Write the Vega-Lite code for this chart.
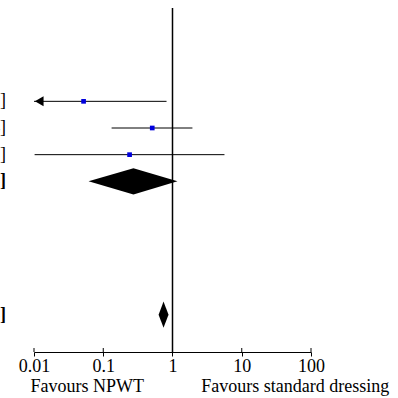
{
  "$schema": "https://vega.github.io/schema/vega-lite/v6.json",
  "width": 277,
  "height": 344,
  "autosize": "none",
  "padding": {"left": 34, "top": 8, "right": 87, "bottom": 46},
  "background": "white",
  "config": {"view": {"stroke": null}, "font": "Liberation Serif"},
  "datasets": {
    "studies": [
      {"row": 1, "est": 0.052, "lb": 0.004, "ub": 0.82, "label": "0.05 [0.00, 0.82]"},
      {"row": 2, "est": 0.51, "lb": 0.132, "ub": 1.94, "label": "0.51 [0.13, 1.94]"},
      {"row": 3, "est": 0.24, "lb": 0.0102, "ub": 5.63, "label": "0.24 [0.01, 5.63]"}
    ],
    "summaries": [
      {"row": 4, "est": 0.273, "lb": 0.0613, "ub": 1.18, "label": "0.27 [0.06, 1.18]"},
      {"row": 9, "est": 0.742, "lb": 0.63, "ub": 0.876, "label": "0.74 [0.63, 0.88]"}
    ]
  },
  "encoding": {
    "x": {
      "type": "quantitative",
      "scale": {"type": "log", "domain": [0.01, 100], "nice": false},
      "axis": {
        "values": [0.01, 0.1, 1, 10, 100], "format": "~g", "orient": "bottom",
        "domainColor": "black", "domainWidth": 1, "tickColor": "black", "tickSize": 4, "tickWidth": 1,
        "labelFont": "Liberation Serif", "labelFontSize": 18, "labelColor": "black", "labelPadding": 1,
        "grid": false, "title": null, "labelFlush": false, "labelOverlap": false}
    },
    "y": {
      "type": "quantitative",
      "scale": {"domain": [-2.5, 10.4], "reverse": true, "nice": false, "zero": false},
      "axis": null
    }
  },
  "layer": [
    {
      "data": {"values": [{"t": 0.01}, {"t": 0.1}, {"t": 1}, {"t": 10}, {"t": 100}]},
      "mark": {"type": "rule", "color": "black", "strokeWidth": 1},
      "encoding": {
        "x": {"field": "t", "type": "quantitative"},
        "y": {"datum": 10.25},
        "y2": {"datum": 10.4}
      }
    },
    {
      "data": {"values": [{"ref": 1}]},
      "mark": {"type": "rule", "color": "black", "strokeWidth": 1.5},
      "encoding": {"x": {"field": "ref", "type": "quantitative"}}
    },
    {
      "data": {"name": "studies"},
      "mark": {"type": "rule", "color": "black", "strokeWidth": 1, "clip": true},
      "encoding": {
        "x": {"field": "lb", "type": "quantitative"},
        "x2": {"field": "ub"},
        "y": {"field": "row", "type": "quantitative"}
      }
    },
    {
      "data": {"name": "studies"},
      "transform": [{"filter": "datum.lb < 0.01"}],
      "mark": {"type": "point", "shape": "triangle-left", "filled": true, "color": "black", "opacity": 1, "size": 100},
      "encoding": {
        "x": {"datum": 0.0119},
        "y": {"field": "row", "type": "quantitative"}
      }
    },
    {
      "data": {"name": "studies"},
      "mark": {"type": "point", "shape": "square", "filled": true, "color": "#0000dd", "opacity": 1, "size": 22},
      "encoding": {
        "x": {"field": "est", "type": "quantitative"},
        "y": {"field": "row", "type": "quantitative"}
      }
    },
    {
      "data": {"name": "summaries"},
      "transform": [
        {"fold": ["lb", "est", "ub"], "as": ["k", "v"]},
        {"calculate": "datum.row - (datum.k == 'est' ? 0.49 : 0)", "as": "ytop"},
        {"calculate": "datum.row + (datum.k == 'est' ? 0.49 : 0)", "as": "ybot"}
      ],
      "mark": {"type": "area", "color": "black", "opacity": 1, "orient": "vertical"},
      "encoding": {
        "x": {"field": "v", "type": "quantitative"},
        "y": {"field": "ytop", "type": "quantitative"},
        "y2": {"field": "ybot"},
        "detail": {"field": "row"}
      }
    },
    {
      "data": {"name": "studies"},
      "mark": {"type": "text", "align": "right", "baseline": "middle", "font": "Liberation Serif", "fontSize": 18, "fill": "black", "color": "black"},
      "encoding": {
        "x": {"datum": 0.00394},
        "y": {"field": "row", "type": "quantitative"},
        "text": {"field": "label"}
      }
    },
    {
      "data": {"name": "summaries"},
      "mark": {"type": "text", "align": "right", "baseline": "middle", "font": "Liberation Serif", "fontSize": 18, "fontWeight": "bold", "fill": "black", "color": "black"},
      "encoding": {
        "x": {"datum": 0.00394},
        "y": {"field": "row", "type": "quantitative"},
        "text": {"field": "label"}
      }
    },
    {
      "data": {"values": [{"side": "Favours NPWT"}]},
      "mark": {"type": "text", "align": "left", "baseline": "alphabetic", "font": "Liberation Serif", "fontSize": 18, "fill": "black", "color": "black"},
      "encoding": {
        "x": {"datum": 0.0089},
        "y": {"datum": 11.9},
        "text": {"field": "side"}
      }
    },
    {
      "data": {"values": [{"side": "Favours standard dressing"}]},
      "mark": {"type": "text", "align": "right", "baseline": "alphabetic", "font": "Liberation Serif", "fontSize": 18, "fill": "black", "color": "black"},
      "encoding": {
        "x": {"datum": 1350},
        "y": {"datum": 11.9},
        "text": {"field": "side"}
      }
    }
  ]
}
